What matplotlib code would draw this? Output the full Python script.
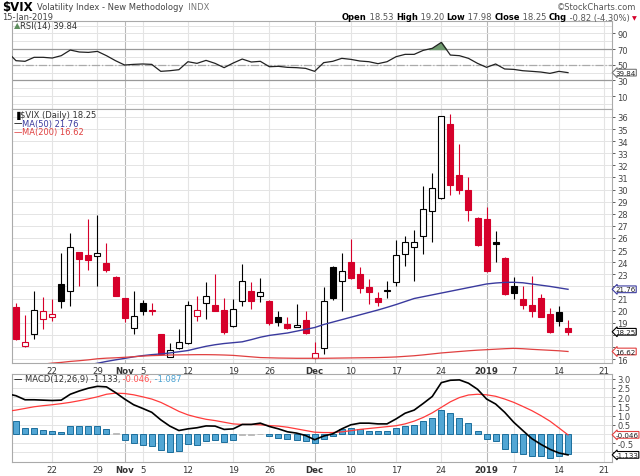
import numpy as np
import matplotlib.pyplot as plt
from matplotlib.patches import Rectangle

# trading days shown (Oct 16 2018 .. Jan 15 2019)
dates = ['Oct 16', 'Oct 17', 'Oct 18', 'Oct 19', 'Oct 22', 'Oct 23', 'Oct 24', 'Oct 25', 'Oct 26',
         'Oct 29', 'Oct 30', 'Oct 31', 'Nov 1', 'Nov 2', 'Nov 5', 'Nov 6', 'Nov 7', 'Nov 8', 'Nov 9',
         'Nov 12', 'Nov 13', 'Nov 14', 'Nov 15', 'Nov 16', 'Nov 19', 'Nov 20', 'Nov 21', 'Nov 23',
         'Nov 26', 'Nov 27', 'Nov 28', 'Nov 29', 'Nov 30', 'Dec 3', 'Dec 4', 'Dec 6', 'Dec 7',
         'Dec 10', 'Dec 11', 'Dec 12', 'Dec 13', 'Dec 14', 'Dec 17', 'Dec 18', 'Dec 19', 'Dec 20',
         'Dec 21', 'Dec 24', 'Dec 26', 'Dec 27', 'Dec 28', 'Dec 31', 'Jan 2', 'Jan 3', 'Jan 4',
         'Jan 7', 'Jan 8', 'Jan 9', 'Jan 10', 'Jan 11', 'Jan 14', 'Jan 15']
future_days = ['Jan 16', 'Jan 17', 'Jan 18', 'Jan 21']

opens = [20.33, 17.08, 18.07, 19.31, 19.45, 22.20, 21.59, 24.82, 24.60, 24.49, 23.94, 22.81, 21.02,
         18.56, 20.63, 19.99, 18.07, 16.20, 16.88, 17.30, 19.53, 20.60, 20.46, 20.08, 18.76, 20.82,
         21.65, 21.24, 20.82, 19.45, 18.90, 18.68, 19.25, 16.06, 16.91, 23.58, 22.42, 23.99, 23.03,
         21.93, 21.02, 21.60, 22.39, 24.68, 25.23, 26.14, 28.21, 29.28, 35.42, 31.21, 29.97, 27.63,
         27.57, 25.64, 24.35, 22.00, 20.96, 20.46, 21.02, 19.72, 19.91, 18.53]
highs = [20.60, 19.60, 21.65, 21.15, 20.96, 24.74, 26.39, 24.85, 27.57, 27.90, 25.59, 22.85, 21.05,
         21.65, 20.88, 20.63, 18.10, 17.30, 18.48, 20.82, 21.24, 22.40, 23.00, 21.04, 21.00, 23.85,
         22.40, 22.70, 20.85, 19.94, 19.45, 20.55, 19.99, 17.38, 21.93, 23.65, 24.76, 25.92, 23.58,
         22.61, 21.57, 22.48, 25.86, 26.20, 26.66, 30.27, 31.37, 36.10, 36.25, 33.77, 31.02, 27.70,
         28.54, 26.61, 24.45, 22.75, 22.06, 22.83, 21.37, 20.19, 20.36, 19.20]
lows = [17.60, 17.00, 17.65, 18.48, 19.17, 20.19, 20.41, 22.06, 23.38, 22.06, 23.16, 21.20, 19.09,
        18.07, 19.64, 19.64, 16.35, 16.14, 16.80, 17.25, 19.12, 19.31, 19.95, 18.10, 18.62, 20.41,
        20.13, 20.69, 18.85, 18.76, 18.50, 18.62, 18.10, 16.00, 16.42, 20.90, 19.94, 22.60, 21.46,
        20.55, 20.41, 21.04, 22.00, 23.72, 22.48, 24.68, 25.70, 29.20, 29.58, 29.64, 27.43, 25.35,
        23.17, 24.05, 21.30, 20.96, 20.13, 19.50, 19.45, 18.15, 18.76, 17.98]
closes = [17.65, 17.42, 20.08, 19.94, 19.72, 20.77, 25.23, 24.27, 24.18, 24.74, 23.38, 21.24, 19.39,
          19.58, 20.00, 19.95, 16.42, 16.77, 17.38, 20.49, 20.08, 21.24, 20.00, 18.20, 20.13, 22.48,
          20.82, 21.57, 18.98, 19.09, 18.54, 18.81, 18.15, 16.50, 20.77, 21.04, 23.25, 22.70, 21.84,
          21.51, 20.74, 21.65, 24.60, 25.64, 25.66, 28.40, 30.11, 36.06, 30.38, 30.00, 28.34, 25.45,
          23.25, 25.50, 21.37, 21.46, 20.49, 19.99, 19.50, 18.20, 19.17, 18.25]
prev_close_start = 21.30

ma50 = [14.50, 14.62, 14.74, 14.86, 14.98, 15.10, 15.24, 15.38, 15.52, 15.65,
        15.80, 15.93, 16.05, 16.18, 16.28, 16.36, 16.42, 16.50, 16.60, 16.70,
        16.88, 17.05, 17.18, 17.28, 17.35, 17.42, 17.60, 17.80, 17.95, 18.05,
        18.15, 18.30, 18.45, 18.60, 18.85, 19.05, 19.25, 19.45, 19.65, 19.85,
        20.05, 20.27, 20.50, 20.75, 21.00, 21.15, 21.30, 21.45, 21.60, 21.75,
        21.90, 22.05, 22.20, 22.28, 22.33, 22.34, 22.30, 22.20, 22.10, 22.00,
        21.88, 21.76]
ma200 = [15.30, 15.40, 15.50, 15.58, 15.66, 15.72, 15.80, 15.86, 15.93, 16.02,
         16.07, 16.10, 16.14, 16.19, 16.24, 16.28, 16.30, 16.33, 16.34, 16.35,
         16.36, 16.36, 16.35, 16.33, 16.30, 16.24, 16.18, 16.12, 16.10, 16.08,
         16.07, 16.06, 16.06, 16.06, 16.06, 16.07, 16.08, 16.09, 16.10, 16.11,
         16.12, 16.14, 16.17, 16.22, 16.27, 16.34, 16.42, 16.50, 16.56, 16.62,
         16.68, 16.73, 16.77, 16.81, 16.85, 16.88, 16.85, 16.80, 16.76, 16.72,
         16.68, 16.62]

# indicator series start one day earlier (Oct 15)
rsi = [67.0,
       55.1, 54.3, 59.4, 59.4, 58.5, 61.5, 68.7, 66.2, 65.7, 67.0,
       61.5, 55.1, 49.6, 50.4, 50.9, 50.4, 41.5, 42.3, 43.6, 53.8,
       51.7, 55.5, 51.7, 46.2, 52.1, 57.2, 53.4, 54.3, 47.4, 47.9,
       46.6, 46.2, 45.3, 41.5, 52.6, 54.3, 58.1, 56.8, 54.7, 53.8,
       51.3, 53.8, 60.2, 63.2, 63.2, 68.3, 70.9, 78.5, 62.3, 61.5,
       58.1, 51.7, 46.6, 50.9, 44.5, 44.0, 42.3, 41.5, 40.6, 38.9,
       41.5, 39.84]
macd = [2.19,
        2.08, 1.86, 1.86, 1.84, 1.82, 1.84, 2.16, 2.34, 2.49, 2.59,
        2.56, 2.25, 1.90, 1.59, 1.39, 1.18, 0.77, 0.43, 0.19, 0.28,
        0.34, 0.44, 0.43, 0.25, 0.28, 0.52, 0.52, 0.59, 0.41, 0.28,
        0.12, 0.05, -0.08, -0.31, -0.11, 0.01, 0.28, 0.50, 0.59, 0.59,
        0.55, 0.55, 0.82, 1.13, 1.30, 1.66, 2.04, 2.79, 2.92, 2.94,
        2.76, 2.43, 1.90, 1.63, 1.18, 0.64, 0.19, -0.25, -0.56, -0.83,
        -1.03, -1.133]
signal = [1.23,
          1.30, 1.39, 1.48, 1.54, 1.59, 1.65, 1.72, 1.81, 1.91, 2.02,
          2.16, 2.22, 2.20, 2.13, 2.02, 1.90, 1.72, 1.48, 1.23, 1.04,
          0.91, 0.80, 0.73, 0.64, 0.55, 0.52, 0.52, 0.50, 0.46, 0.43,
          0.37, 0.28, 0.19, 0.10, 0.08, 0.08, 0.12, 0.18, 0.25, 0.30,
          0.35, 0.40, 0.45, 0.55, 0.70, 0.90, 1.15, 1.45, 1.75, 1.98,
          2.12, 2.16, 2.13, 2.05, 1.90, 1.72, 1.50, 1.27, 1.00, 0.70,
          0.33, -0.046]
hist = [0.96,
        0.68, 0.34, 0.32, 0.23, 0.16, 0.12, 0.41, 0.46, 0.44, 0.41,
        0.28, 0.03, -0.31, -0.47, -0.58, -0.63, -0.85, -0.95, -0.92, -0.56,
        -0.60, -0.38, -0.34, -0.42, -0.34, -0.05, -0.04, 0.02, -0.13, -0.22,
        -0.29, -0.33, -0.38, -0.49, -0.29, -0.13, 0.25, 0.32, 0.25, 0.19,
        0.14, 0.14, 0.32, 0.46, 0.50, 0.68, 0.86, 1.30, 1.13, 0.87,
        0.60, 0.16, -0.29, -0.40, -0.80, -0.97, -1.11, -1.19, -1.20, -1.28,
        -1.19, -1.087]

tick_dates = ['Oct 22', 'Oct 29', 'Nov 1', 'Nov 5', 'Nov 12', 'Nov 19', 'Nov 26', 'Dec 3',
              'Dec 10', 'Dec 17', 'Dec 24', 'Jan 2', 'Jan 7', 'Jan 14', 'Jan 21']
tick_labels = ['22', '29', 'Nov', '5', '12', '19', '26', 'Dec', '10', '17', '24', '2019', '7', '14', '21']
month_ticks = ['Nov', 'Dec', '2019']

# right-axis labels (the ones covered by value tags are left blank, as in the source)
price_ticks = list(range(16, 37))
price_labels = ['' if v in (17, 18, 22) else str(v) for v in price_ticks]
macd_ticks = [-1.0, -0.5, 0.0, 0.5, 1.0, 1.5, 2.0, 2.5, 3.0]
macd_labels = ['', '-0.5', '', '0.5', '1.0', '1.5', '2.0', '2.5', '3.0']

RED = '#d6002a'
BLUE_MA = '#3a3a9e'
RED_MA = '#e04040'
GRID = '#e4e4e4'
MGRID = '#b8b8b8'
TXT = '#444444'

all_days = dates + future_days
tick_pos = [all_days.index(d) for d in tick_dates]
x = np.arange(len(dates))
xi = np.arange(-1, len(dates))

W, H = 640, 477
fig = plt.figure(figsize=(W / 100, H / 100), dpi=100)
plt.rcParams['font.family'] = ['DejaVu Sans']


def box(top, bottom):
    return [12 / W, 1 - bottom / H, 600 / W, (bottom - top) / H]


ax_rsi = fig.add_axes(box(22, 110))
ax = fig.add_axes(box(110, 364))
ax_m = fig.add_axes(box(375, 463))

for a in (ax_rsi, ax, ax_m):
    a.set_xlim(-0.44, 65.86)
    for s in a.spines.values():
        s.set_color('#aaaaaa')
        s.set_linewidth(0.8)
    a.yaxis.tick_right()
    a.tick_params(axis='y', labelsize=6, colors=TXT, length=2, pad=2, width=0.6)
    a.tick_params(axis='x', length=0, labelsize=6.2, colors='#333333', pad=2)
    a.set_xticks(tick_pos)
    for p, lab in zip(tick_pos, tick_labels):
        a.axvline(p, color=MGRID if lab in month_ticks else GRID, lw=0.8, zorder=0)
    a.set_xticklabels(tick_labels)
    for t in a.get_xticklabels():
        if t.get_text() in month_ticks:
            t.set_fontweight('bold')
ax_rsi.set_xticklabels([])

# ---- RSI panel
ax_rsi.set_ylim(-6.6, 105.8)
ax_rsi.set_yticks([10, 30, 50, 70, 90])
for v in range(0, 101, 10):
    ax_rsi.axhline(v, color=GRID, lw=0.7, zorder=0)
ax_rsi.axhline(70, color='#999999', lw=0.9, zorder=1)
ax_rsi.axhline(30, color='#999999', lw=0.9, zorder=1)
ax_rsi.axhline(50, color='#aaaaaa', lw=0.9, ls='-.', zorder=1)
r = np.array(rsi)
ax_rsi.fill_between(xi, r, 70, where=r > 70, interpolate=True, color='#6e9a6e', zorder=2)
ax_rsi.plot(xi, r, color='#222222', lw=0.9, zorder=3)

# ---- price panel
ax.set_ylim(15.67, 36.66)
ax.set_yticks(price_ticks)
ax.set_yticklabels(price_labels)
for v in price_ticks:
    ax.axhline(v, color=GRID, lw=0.7, zorder=0)
prev = [prev_close_start] + closes[:-1]
w = 0.66
for i in range(len(closes)):
    o, h, l, c = opens[i], highs[i], lows[i], closes[i]
    col = 'black' if c >= prev[i] else RED
    hollow = c > o
    ax.vlines(i, l, h, color=col, lw=0.8, zorder=2)
    b = min(o, c)
    hgt = max(abs(c - o), 0.07)
    ax.add_patch(Rectangle((i - w / 2, b), w, hgt, facecolor='white' if hollow else col,
                           edgecolor=col, lw=0.8, zorder=3))
ax.plot(x, ma50, color=BLUE_MA, lw=1.0, zorder=4)
ax.plot(x, ma200, color=RED_MA, lw=0.9, zorder=4)

# ---- MACD panel
ax_m.set_ylim(-1.52, 3.26)
ax_m.set_yticks(macd_ticks)
ax_m.set_yticklabels(macd_labels)
for v in np.arange(-1.5, 3.01, 0.5):
    ax_m.axhline(v, color=GRID, lw=0.7, zorder=0)
hv = np.array(hist)
hcol = ['#cfcfcf' if abs(v) < 0.08 else '#52a6d4' for v in hv]
hedge = ['#bbbbbb' if abs(v) < 0.08 else '#1c6e9c' for v in hv]
ax_m.bar(xi, hv, width=0.66, color=hcol, edgecolor=hedge, lw=0.7, zorder=2)
ax_m.plot(xi, signal, color='#ff3b3b', lw=0.9, zorder=3)
ax_m.plot(xi, macd, color='black', lw=1.2, zorder=4)


# ---- value tags on the right
def tag(a, val, txt, ec):
    a.annotate(txt, xy=(1.0, val), xycoords=('axes fraction', 'data'), xytext=(2.6, 0),
               textcoords='offset points', ha='left', va='center', fontsize=5.1, color='#222222',
               bbox=dict(boxstyle='larrow,pad=0.05', fc='white', ec=ec, lw=0.8),
               annotation_clip=False, zorder=10)


tag(ax_rsi, 39.84, '39.84', '#777777')
tag(ax, 21.76, '21.76', BLUE_MA)
tag(ax, 18.25, '18.25', 'black')
tag(ax, 16.62, '16.62', RED_MA)
tag(ax_m, -0.046, '-0.046', RED_MA)
tag(ax_m, -1.133, '-1.133', 'black')

# ---- texts
fig.canvas.draw()
rend = fig.canvas.get_renderer()


def pieces(xp, yp, parts, size=6):
    for s, col, bold in parts:
        t = fig.text(xp / W, 1 - yp / H, s, color=col, fontsize=size,
                     fontweight='bold' if bold else 'normal', va='center', ha='left')
        xp += t.get_window_extent(renderer=rend).width
    return xp


pieces(2, 7, [('\\$VIX', 'black', True)], size=8.5)
pieces(37, 7.5, [('Volatility Index - New Methodology', '#444444', False),
                 ('  INDX', '#777777', False)], size=6)
pieces(2, 17, [('15-Jan-2019', '#444444', False)], size=6)
fig.text(636 / W, 1 - 7 / H, '\u00a9StockCharts.com', fontsize=6, color='#555555',
         ha='right', va='center')
end = pieces(342, 18, [('Open', 'black', True), (' 18.53 ', '#555555', False),
                       ('High', 'black', True), (' 19.20 ', '#555555', False),
                       ('Low', 'black', True), (' 17.98 ', '#555555', False),
                       ('Close', 'black', True), (' 18.25 ', '#555555', False),
                       ('Chg', 'black', True), (' -0.82 (-4.30%)', '#555555', False)], size=6)
fig.text((end + 2) / W, 1 - 18.5 / H, '\u25bc', fontsize=4.5, color=RED, ha='left', va='center')

pieces(14, 26, [('\u25b2', '#5f8f5f', False), ('RSI(14) 39.84', '#333333', False)], size=6)
pieces(14, 115.5, [('\u2590', 'black', False), ('\\$VIX (Daily) 18.25', '#333333', False)], size=6)
pieces(14, 124, [('\u2014', 'black', False), ('MA(50) 21.76', BLUE_MA, False)], size=6)
pieces(14, 132.5, [('\u2014', RED_MA, False), ('MA(200) 16.62', RED_MA, False)], size=6)
pieces(14, 379.5, [('\u2014 ', 'black', False), ('MACD(12,26,9) -1.133,', '#333333', False),
                   (' -0.046,', '#ff5050', False), (' -1.087', '#4ba3d3', False)], size=6)

fig.savefig('out.png', dpi=100)
